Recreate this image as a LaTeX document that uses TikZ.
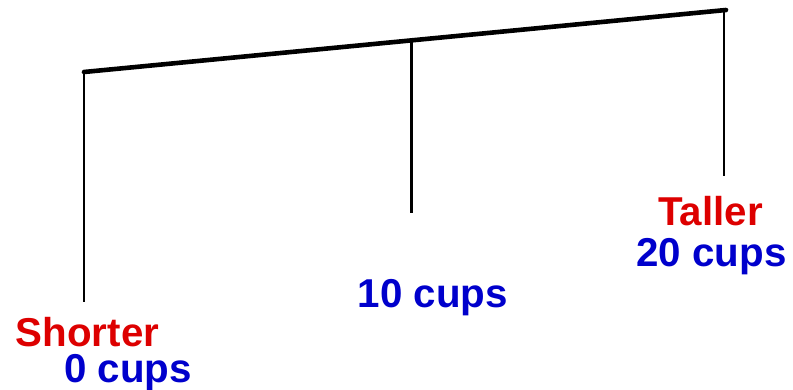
\documentclass[tikz,border=0pt]{standalone}
\usepackage{fontspec}
\setmainfont{Liberation Sans}
\definecolor{shortred}{RGB}{221,0,0}
\definecolor{cupblue}{RGB}{0,0,204}
\tikzset{
	beam/.style={line width=4.6pt, line cap=round},
	post/.style={line width=2.3pt},
	cuplabel/.style={anchor=base, inner sep=0pt, text=cupblue, font=\bfseries\fontsize{40.3}{42}\selectfont},
	endlabel/.style={cuplabel, text=shortred}
}
\begin{document}
\begin{tikzpicture}[x=1pt, y=-1pt]
		\useasboundingbox (0,0) rectangle (793,390);
		%Tilted beam and its three posts
		\coordinate (lefttop) at (84,72);
		\coordinate (midtop) at (411.5,40.4);
		\coordinate (righttop) at (724,10.2);
		\coordinate (beamend) at (726,10);
		\coordinate (leftfoot) at (84,302);
		\coordinate (midfoot) at (411.5,213);
		\coordinate (rightfoot) at (724,176);
		\draw[post] (lefttop)--(leftfoot);
		\draw[post] (midtop)--(midfoot);
		\draw[post] (righttop)--(rightfoot);
		\draw[beam] (lefttop)--(beamend);
		%Labels
		\node[endlabel] (shorter) at (87.5,346) {Shorter};
		\node[cuplabel] (zerocups) at (128,382) {0 cups};
		\node[cuplabel] (tencups) at (433,308) {10 cups};
		\node[endlabel] (taller) at (710.5,226) {Taller};
		\node[cuplabel] (twentycups) at (711.5,267) {20 cups};
\end{tikzpicture}
\end{document}
